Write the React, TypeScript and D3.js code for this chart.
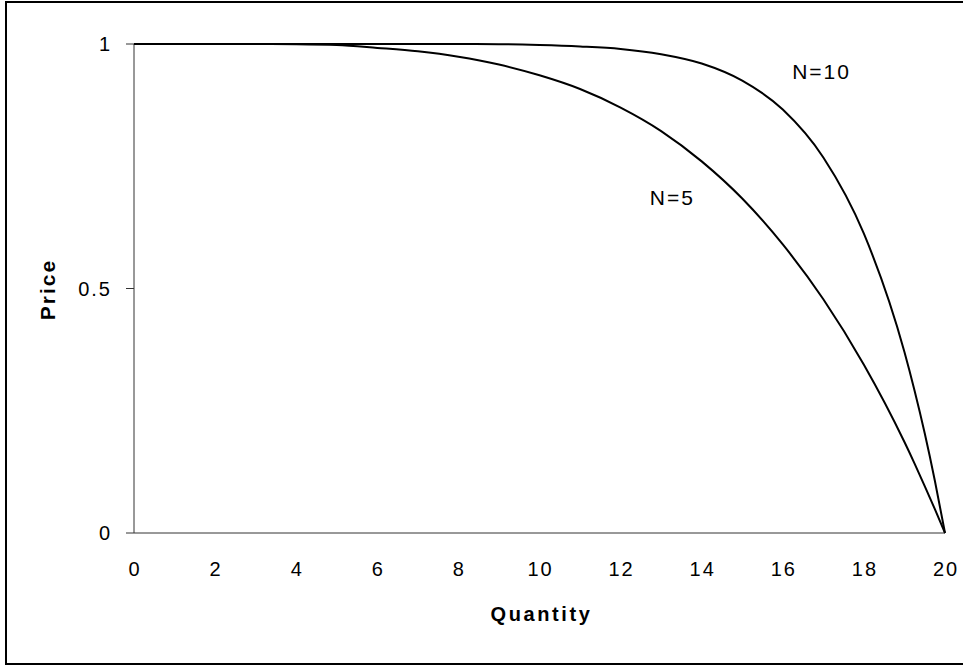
import { useEffect, useRef } from "react"
import * as d3 from "d3"

// quantities
const quantities = [0, 1, 2, 3, 4, 5, 6, 7, 8, 9, 10, 11, 12, 13, 14, 15, 16, 17, 18, 19, 19.25, 19.5, 19.75, 20]

// N=5 curve (price at each quantity)
const priceN5 = [1, 1, 1, 1, 0.9996, 0.998, 0.992, 0.985, 0.974, 0.958, 0.936, 0.908, 0.87, 0.822, 0.76, 0.684, 0.59, 0.478, 0.344, 0.186, 0.142, 0.096, 0.049, 0]

// N=10 curve
const priceN10 = [1, 1, 1, 1, 1, 1, 1, 1, 1, 0.9997, 0.998, 0.995, 0.99, 0.979, 0.96, 0.925, 0.866, 0.768, 0.612, 0.37, 0.291, 0.204, 0.107, 0]

const xTicks = [0, 2, 4, 6, 8, 10, 12, 14, 16, 18, 20]
const yTicks = [0, 0.5, 1]
const yTickLabels = ["0", "0.5", "1"]

const curveLabels = [
  { text: "N=10", q: 16.23, p: 0.928 },
  { text: "N=5", q: 12.72, p: 0.671 },
]

export default function App() {
  const svgRef = useRef<SVGSVGElement>(null)

  useEffect(() => {
    if (!svgRef.current) return
    const svg = d3.select(svgRef.current)
    svg.selectAll("*").remove()

    const font = "Arial, 'Liberation Sans', sans-serif"

    // outer chart border
    svg
      .append("rect")
      .attr("x", 6)
      .attr("y", 2)
      .attr("width", 980)
      .attr("height", 662)
      .attr("fill", "white")
      .attr("stroke", "#000")
      .attr("stroke-width", 2)

    const x = d3.scaleLinear().domain([0, 20]).range([134, 945])
    const y = d3.scaleLinear().domain([0, 1]).range([533, 44])

    // axes
    const axisColor = "#333"
    svg
      .append("line")
      .attr("x1", x(0))
      .attr("x2", x(0))
      .attr("y1", y(1))
      .attr("y2", y(0))
      .attr("stroke", axisColor)
      .attr("stroke-width", 1)
    svg
      .append("line")
      .attr("x1", x(0))
      .attr("x2", x(20))
      .attr("y1", y(0))
      .attr("y2", y(0))
      .attr("stroke", axisColor)
      .attr("stroke-width", 1)

    // y ticks
    yTicks.forEach((t, i) => {
      svg
        .append("line")
        .attr("x1", x(0) - 8)
        .attr("x2", x(0))
        .attr("y1", y(t))
        .attr("y2", y(t))
        .attr("stroke", axisColor)
        .attr("stroke-width", 1)
      svg
        .append("text")
        .attr("x", 112)
        .attr("y", y(t))
        .attr("dy", "0.36em")
        .attr("text-anchor", "end")
        .style("font-family", font)
        .style("font-size", "20px")
        .style("letter-spacing", "2px")
        .text(yTickLabels[i])
    })

    // x tick labels
    svg
      .selectAll(".xlab")
      .data(xTicks)
      .enter()
      .append("text")
      .attr("class", "xlab")
      .attr("x", (d) => x(d) + 1)
      .attr("y", 576)
      .attr("text-anchor", "middle")
      .style("font-family", font)
      .style("font-size", "20px")
      .style("letter-spacing", "2px")
      .text((d) => String(d))

    // axis titles
    svg
      .append("text")
      .attr("x", x(10) + 2)
      .attr("y", 621)
      .attr("text-anchor", "middle")
      .style("font-family", font)
      .style("font-size", "20px")
      .style("font-weight", "bold")
      .style("letter-spacing", "2.6px")
      .text("Quantity")

    svg
      .append("text")
      .attr("transform", `translate(55,${(y(0) + y(1)) / 2 + 1}) rotate(-90)`)
      .attr("text-anchor", "middle")
      .style("font-family", font)
      .style("font-size", "21px")
      .style("font-weight", "bold")
      .style("letter-spacing", "2px")
      .text("Price")

    // curves
    const line = d3
      .line<number>()
      .x((_, i) => x(quantities[i]))
      .y((d) => y(d))
      .curve(d3.curveMonotoneX)

    ;[priceN5, priceN10].forEach((series) => {
      svg
        .append("path")
        .datum(series)
        .attr("d", line)
        .attr("fill", "none")
        .attr("stroke", "#000")
        .attr("stroke-width", 2)
    })

    // curve labels
    curveLabels.forEach((l) => {
      svg
        .append("text")
        .attr("x", x(l.q))
        .attr("y", y(l.p))
        .style("font-family", font)
        .style("font-size", "21px")
        .style("letter-spacing", "2px")
        .text(l.text)
    })
  }, [])

  return (
    <svg
      ref={svgRef}
      width={963}
      height={666}
      style={{ position: "absolute", left: 0, top: 0, background: "white" }}
    />
  )
}
